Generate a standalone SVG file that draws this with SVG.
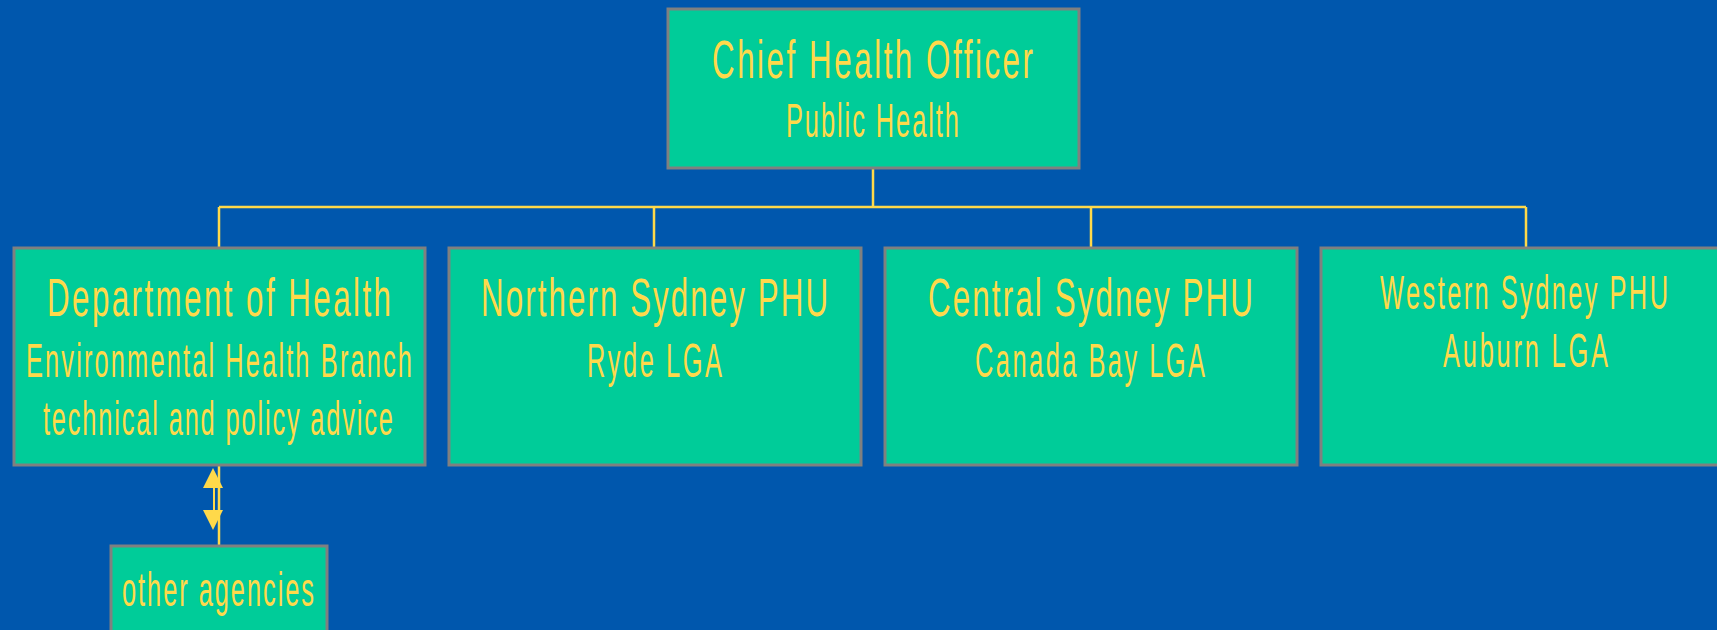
<svg xmlns="http://www.w3.org/2000/svg" width="1717" height="630" viewBox="0 0 1717 630">
<style>
.box{fill:#00CC99;stroke:#808080;stroke-width:3}
.t{font-family:"Liberation Sans",Arial,sans-serif;fill:#FFD94A}
.big{font-size:54px}
.mid{font-size:48px}
.con{stroke:#FFD94A;stroke-width:2.5;fill:none}
</style>
<rect width="1717" height="630" fill="#0057AD"/>
<g id="connectors">
<path class="con" d="M873,168 V207 M219,207 H1526 M219,207 V247 M654,207 V247 M1091,207 V247 M1526,207 V247"/>
<path class="con" d="M219,466 V546"/>
<path d="M214,488 V510" stroke="#FFD94A" stroke-width="2" fill="none"/>
<path d="M213,468 L203,488 L223,488 Z" fill="#FFD94A"/>
<path d="M213,530 L203,510 L223,510 Z" fill="#FFD94A"/>
</g>
<g id="chief">
<rect class="box" x="668" y="9" width="411" height="159"/>
<text class="t big" transform="scale(0.58,1)" x="1227.6" y="78" textLength="553.4" lengthAdjust="spacing">Chief Health Officer</text>
<text class="t mid" transform="scale(0.53,1)" x="1483" y="137" textLength="326.4" lengthAdjust="spacing">Public Health</text>
</g>
<g id="doh">
<rect class="box" x="14" y="248" width="411" height="217"/>
<text class="t big" transform="scale(0.58,1)" x="81" y="316" textLength="593.1" lengthAdjust="spacing">Department of Health</text>
<text class="t mid" transform="scale(0.53,1)" x="49.1" y="377" textLength="728.3" lengthAdjust="spacing">Environmental Health Branch</text>
<text class="t mid" transform="scale(0.53,1)" x="81.1" y="435" textLength="660.4" lengthAdjust="spacing">technical and policy advice</text>
</g>
<g id="northern">
<rect class="box" x="449" y="248" width="412" height="217"/>
<text class="t big" transform="scale(0.58,1)" x="829.3" y="316" textLength="598.3" lengthAdjust="spacing">Northern Sydney PHU</text>
<text class="t mid" transform="scale(0.53,1)" x="1107.5" y="377" textLength="254.7" lengthAdjust="spacing">Ryde LGA</text>
</g>
<g id="central">
<rect class="box" x="885" y="248" width="412" height="217"/>
<text class="t big" transform="scale(0.58,1)" x="1600" y="316" textLength="560.3" lengthAdjust="spacing">Central Sydney PHU</text>
<text class="t mid" transform="scale(0.53,1)" x="1839.6" y="377" textLength="434" lengthAdjust="spacing">Canada Bay LGA</text>
</g>
<g id="western">
<rect class="box" x="1321" y="248" width="410" height="217"/>
<text class="t mid" transform="scale(0.53,1)" x="2603.8" y="309" textLength="543.4" lengthAdjust="spacing">Western Sydney PHU</text>
<text class="t mid" transform="scale(0.53,1)" x="2722.6" y="367" textLength="311.3" lengthAdjust="spacing">Auburn LGA</text>
</g>
<g id="agencies">
<rect class="box" x="111" y="546" width="216" height="100"/>
<text class="t mid" transform="scale(0.53,1)" x="230.2" y="606" textLength="362.3" lengthAdjust="spacing">other agencies</text>
</g>
</svg>
